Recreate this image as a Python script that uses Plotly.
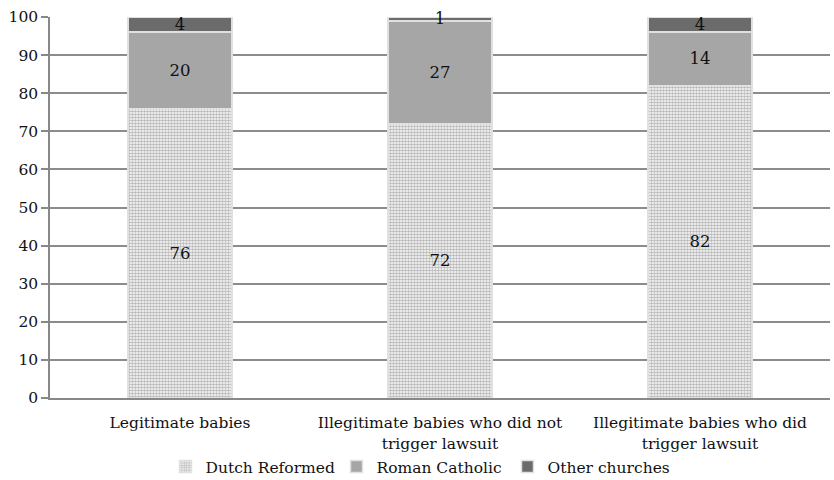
import plotly.graph_objects as go

categories = ["Legitimate babies",
              "Illegitimate babies who did not<br>trigger lawsuit",
              "Illegitimate babies who did<br>trigger lawsuit"]
dutch_reformed = [76, 72, 82]
roman_catholic = [20, 27, 14]
other_churches = [4, 1, 4]
y_ticks = [0, 10, 20, 30, 40, 50, 60, 70, 80, 90, 100]

FONT = "DejaVu Serif"
FS = 15.5
line = dict(color="#e0e0e0", width=1.5)

fig = go.Figure()
fig.add_trace(go.Bar(
    x=categories, y=dutch_reformed, name="Dutch Reformed",
    text=dutch_reformed,
    marker=dict(color="#ffffff", line=line,
                pattern=dict(shape=".", fgcolor="#707070", bgcolor="#ffffff",
                             size=3, solidity=0.6)),
))
fig.add_trace(go.Bar(
    x=categories, y=roman_catholic, name="Roman Catholic",
    text=roman_catholic,
    marker=dict(color="#a6a6a6", line=line),
))
fig.add_trace(go.Bar(
    x=categories, y=other_churches, name="Other churches",
    text=other_churches,
    marker=dict(color="#6b6b6b", line=line),
))

fig.update_traces(textposition="inside", insidetextanchor="middle",
                  constraintext="none", cliponaxis=False,
                  textfont=dict(family=FONT, size=16.5, color="#111111"),
                  textangle=0)

fig.update_layout(
    barmode="stack", bargap=0.6,
    width=834, height=480,
    margin=dict(l=50, r=4, t=17, b=82, autoexpand=False),
    paper_bgcolor="white", plot_bgcolor="white",
    font=dict(family=FONT, size=FS, color="#111111"),
    showlegend=True,
    legend=dict(orientation="h", xref="container", x=0.5 + 5 / 834, xanchor="center",
                yref="container", y=(480 - 467) / 480, yanchor="middle",
                bgcolor="rgba(0,0,0,0)",
                font=dict(family=FONT, size=FS), traceorder="normal",
                itemwidth=30, entrywidth=126, entrywidthmode="pixels"),
)
fig.update_xaxes(showgrid=False, showline=True, linecolor="#888888", linewidth=1.5,
                 ticks="", tickfont=dict(family=FONT, size=FS), automargin=False,
                 ticklabelstandoff=10)
fig.update_yaxes(range=[0, 100], tickvals=y_ticks, showgrid=True,
                 gridcolor="#8c8c8c", gridwidth=1.5, showline=True,
                 linecolor="#888888", linewidth=1.5, ticks="outside",
                 ticklen=7, tickcolor="#888888", tickwidth=1.5,
                 tickfont=dict(family=FONT, size=FS), zeroline=False,
                 automargin=False)

fig.write_html("out.html")
